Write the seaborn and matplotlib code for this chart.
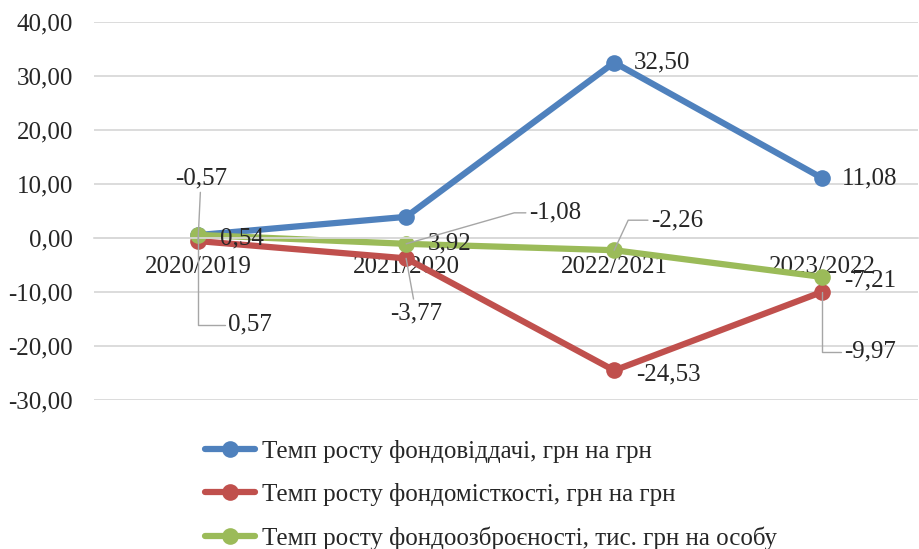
import pandas as pd
import seaborn as sns
import matplotlib.pyplot as plt

# periods and growth rates (%)
periods = ['2020/2019', '2021/2020', '2022/2021', '2023/2022']
fondovid = [0.54, 3.92, 32.50, 11.08]
fondomist = [-0.57, -3.77, -24.53, -9.97]
fondoozbr = [0.57, -1.08, -2.26, -7.21]
names = ['Темп росту фондовіддачі, грн на грн',
         'Темп росту фондомісткості, грн на грн',
         'Темп росту фондоозброєності, тис. грн на особу']
colors = ['#4f81bd', '#c0504d', '#9bbb59']
yticks = [-30, -20, -10, 0, 10, 20, 30, 40]

sns.set_theme(style='white')
plt.rcParams['font.family'] = ['Liberation Serif', 'DejaVu Serif']
FS = 18

df = pd.concat([
    pd.DataFrame({'period': periods, 'value': vals, 'series': nm})
    for vals, nm in zip([fondovid, fondomist, fondoozbr], names)
])

fig = plt.figure(figsize=(9.19, 5.49), dpi=100)
ax = fig.add_axes([94 / 919, 1 - 400 / 549, 824 / 919, 378 / 549])

sns.lineplot(data=df, x='period', y='value', hue='series', hue_order=names,
             palette=colors, marker='o', markersize=12, markeredgewidth=0,
             linewidth=4.5, sort=False, ax=ax)

ax.set_xlim(-0.5, 3.46)
ax.set_ylim(-30, 40)
ax.set_yticks(yticks)
ax.set_yticklabels([f'{v:.2f}'.replace('.', ',') for v in yticks], fontsize=FS)
ax.yaxis.grid(True, color='#d9d9d9', lw=1.3)
ax.set_axisbelow(True)
ax.set_xlabel('')
ax.set_ylabel('')
for s in ['top', 'right', 'left']:
    ax.spines[s].set_visible(False)
ax.spines['bottom'].set_position(('data', 0))
ax.spines['bottom'].set_color('#d9d9d9')
ax.tick_params(axis='x', length=0, pad=13, labelsize=FS)
ax.tick_params(axis='y', length=0, pad=15)
ax.set_xticks(range(len(periods)))
ax.set_xticklabels(periods)

lead = dict(arrowstyle='-', color='#a6a6a6', lw=1, shrinkA=0, shrinkB=0)

def lab(i, v, dx, dy, ha='left', leader=None):
    txt = f'{v:.2f}'.replace('.', ',')
    kw = dict(xytext=(dx, dy), textcoords='offset pixels', ha=ha, va='center',
              fontsize=FS, annotation_clip=False)
    if leader is not None:
        kw['arrowprops'] = dict(lead, connectionstyle=leader)
    ax.annotate(txt, (i, v), **kw)

# blue
lab(0, fondovid[0], 22, -3)
lab(1, fondovid[1], 22, -27)
lab(2, fondovid[2], 20, 0)
lab(3, fondovid[3], 20, 0)
# red
lab(0, fondomist[0], 3, 63, ha='center', leader='arc3')
lab(1, fondomist[1], 10, -55, ha='center', leader='arc3')
lab(2, fondomist[2], 22, -4)
lab(3, fondomist[3], 22, -60, leader='angle,angleA=0,angleB=90,rad=0')
# green
lab(0, fondoozbr[0], 30, -90, leader='angle,angleA=0,angleB=90,rad=0')
lab(1, fondoozbr[1], 123, 31, leader='angle,angleA=0,angleB=16,rad=0')
lab(2, fondoozbr[2], 37, 30, leader='angle,angleA=0,angleB=65,rad=0')
lab(3, fondoozbr[3], 22, -4)

handles, labels = ax.get_legend_handles_labels()
ax.get_legend().remove()
fig.legend(handles, labels, loc='upper left', bbox_to_anchor=(195 / 919, 1 - 430 / 549),
           frameon=False, fontsize=FS, handlelength=2.0, handletextpad=0.3,
           labelspacing=0.8, borderaxespad=0)

fig.savefig('out.png', dpi=100)
